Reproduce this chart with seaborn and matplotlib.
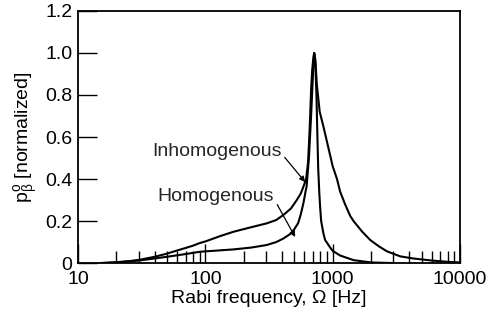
import numpy as np
import pandas as pd
import matplotlib
matplotlib.use("Agg")
import matplotlib.pyplot as plt
import seaborn as sns
from matplotlib.ticker import LogLocator, NullFormatter

# data
inhom_freq = [15, 20, 25, 30, 40, 50, 60, 70, 80, 90, 100, 130, 166, 220, 303, 360,
              410, 470, 522, 560, 588, 618, 640, 653, 665, 676, 690, 705, 715, 730,
              745, 759, 769, 785, 796, 811, 845, 871, 955, 1000, 1143, 1456, 2000, 3000]
inhom_p = [0.0, 0.004, 0.009, 0.015, 0.03, 0.045, 0.06, 0.072, 0.083, 0.095, 0.103,
           0.128, 0.149, 0.168, 0.189, 0.205, 0.229, 0.26, 0.30, 0.33, 0.363, 0.40,
           0.48, 0.586, 0.70, 0.824, 0.92, 0.98, 1.0, 0.95, 0.80, 0.586, 0.45, 0.33,
           0.268, 0.20, 0.141, 0.11, 0.074, 0.058, 0.036, 0.014, 0.003, 0.0]

hom_freq = [15, 20, 30, 40, 50, 70, 91, 120, 166, 230, 303, 360, 410, 460, 494, 535,
            560, 588, 615, 623, 650, 676, 700, 715, 730, 750, 790, 845, 899, 1000,
            1080, 1143, 1250, 1370, 1456, 1700, 1968, 2300, 2663, 3388, 4270, 6000,
            8000, 10000]
hom_p = [0.0, 0.003, 0.012, 0.022, 0.03, 0.043, 0.054, 0.059, 0.065, 0.074, 0.086,
         0.10, 0.117, 0.137, 0.157, 0.19, 0.23, 0.284, 0.348, 0.363, 0.5, 0.70, 0.9,
         1.0, 0.97, 0.85, 0.72, 0.65, 0.58, 0.46, 0.40, 0.34, 0.28, 0.225, 0.20,
         0.15, 0.11, 0.08, 0.056, 0.032, 0.022, 0.012, 0.006, 0.003]

y_ticks = [0, 0.2, 0.4, 0.6, 0.8, 1.0, 1.2]
y_ticklabels = ["0", "0.2", "0.4", "0.6", "0.8", "1.0", "1.2"]
x_ticks = [10, 100, 1000, 10000]
x_ticklabels = ["10", "100", "1000", "10000"]

sns.set_theme(style="ticks")
plt.rcParams['font.family'] = ['Liberation Sans', 'DejaVu Sans']
plt.rcParams['mathtext.fontset'] = 'custom'
plt.rcParams['mathtext.rm'] = 'Liberation Sans'
plt.rcParams['mathtext.it'] = 'Liberation Sans'

df_inhom = pd.DataFrame({'f': inhom_freq, 'p': inhom_p})
df_hom = pd.DataFrame({'f': hom_freq, 'p': hom_p})

fig = plt.figure(figsize=(4.91, 3.22), dpi=100)
ax = fig.add_axes([0.159, 0.183, 0.778, 0.783])

sns.lineplot(data=df_inhom, x='f', y='p', color='black', lw=1.5, ax=ax)
sns.lineplot(data=df_hom, x='f', y='p', color='black', lw=1.5, ax=ax)

ax.set_xscale('log')
ax.set_xlim(10, 10000)
ax.set_ylim(0, 1.2)
ax.set_xticks(x_ticks)
ax.set_xticklabels(x_ticklabels)
ax.xaxis.set_minor_locator(LogLocator(base=10, subs=np.arange(2, 10)))
ax.xaxis.set_minor_formatter(NullFormatter())
ax.set_yticks(y_ticks)
ax.set_yticklabels(y_ticklabels)

ax.tick_params(which='major', direction='in', length=14, width=1, labelsize=14,
               color='black', labelcolor='black', pad=4)
ax.tick_params(axis='x', which='major', pad=6)
ax.tick_params(which='minor', direction='in', length=9, width=1, color='black')
for s in ax.spines.values():
    s.set_color('black')
    s.set_linewidth(1.3)

ax.set_xlabel('Rabi frequency, Ω [Hz]', fontsize=14, color='black', labelpad=1)
ax.set_ylabel(r'p$_\beta^\mathrm{o}$ [normalized]', fontsize=14, color='black', labelpad=4)

ax.annotate('Inhomogenous', xy=(607, 0.386), xytext=(38, 0.53),
            fontsize=14, va='center', ha='left',
            arrowprops=dict(arrowstyle='-|>', color='black', lw=0.9,
                            mutation_scale=8, shrinkA=0, shrinkB=0,
                            relpos=(1.0, 0.4)))
ax.annotate('Homogenous', xy=(507, 0.124), xytext=(42, 0.315),
            fontsize=14, va='center', ha='left',
            arrowprops=dict(arrowstyle='-|>', color='black', lw=0.9,
                            mutation_scale=8, shrinkA=0, shrinkB=0,
                            relpos=(1.0, 0.4)))

fig.savefig('out.png', dpi=100)
